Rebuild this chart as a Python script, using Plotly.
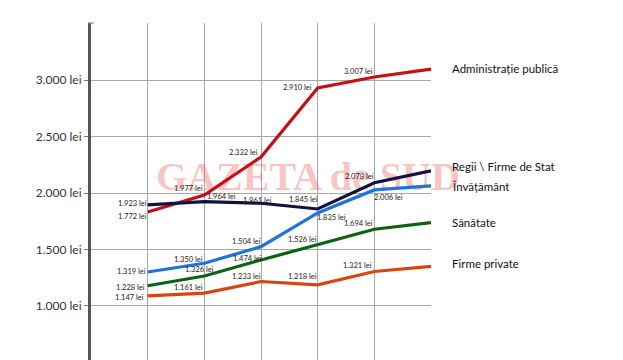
import plotly.graph_objects as go

# ---- data ----
points = [0, 1, 2, 3, 4, 5]

series_names = ["Administrație publică", "Regii \\ Firme de Stat", "Învățământ", "Sănătate", "Firme private"]
admin_vals = [1833, 1983, 2320, 2932, 3029, 3100]
regii_vals = [1895, 1924, 1910, 1859, 2092, 2198]
invat_vals = [1300, 1378, 1525, 1824, 2028, 2063]
sanat_vals = [1178, 1265, 1407, 1540, 1679, 1738]
privat_vals = [1089, 1113, 1216, 1187, 1305, 1350]

admin_labels = ["1.772 lei", "1.977 lei", "2.332 lei", "2.910 lei", "3.007 lei"]
regii_labels = ["1.923 lei", "1.964 lei", "1.961 lei", "1.845 lei", "2.078 lei"]
invat_labels = ["1.319 lei", "1.350 lei", "1.504 lei", "1.835 lei", "2.006 lei"]
sanat_labels = ["1.228 lei", "1.326 lei", "1.474 lei", "1.526 lei", "1.694 lei"]
privat_labels = ["1.147 lei", "1.161 lei", "1.233 lei", "1.218 lei", "1.321 lei"]

y_tickvals = [1000, 1500, 2000, 2500, 3000]
y_ticktext = ["1.000 lei", "1.500 lei", "2.000 lei", "2.500 lei", "3.000 lei"]

# ---- styles ----
colors = ["#c90d14", "#12123e", "#1e74dc", "#0b6114", "#d8450f"]
label_offsets = [
    [(-15, -5), (-16, 7), (-18, 4), (-20, 0), (-16, 6)],
    [(-15, 1), (17, 5), (-4, 3), (-14, 9), (-15, 6)],
    [(-16, 1), (-16, 4), (-15, 5), (14, -5), (14, -8)],
    [(-17, -2), (-5, 6), (-14, 1), (-15, 5), (-16, 6)],
    [(-18, -2), (-16, 6), (-15, 5), (-15, 8), (-17, 6)],
]
side_yshift = [1, 4, -1, 0, 3]

all_vals = [admin_vals, regii_vals, invat_vals, sanat_vals, privat_vals]
all_labels = [admin_labels, regii_labels, invat_labels, sanat_labels, privat_labels]

x_range = [-1, 5]
y_range = [520, 3508]

fig = go.Figure()

# watermark (drawn first, below lines)
fig.add_trace(go.Scatter(
    x=[x_range[0] + 0.638 * (x_range[1] - x_range[0])],
    y=[y_range[0] + 0.535 * (y_range[1] - y_range[0])],
    mode="text", text=["GAZETA de SUD"], cliponaxis=False,
    textfont=dict(family="Liberation Serif", size=40, weight=700, color="rgba(235,70,70,0.33)"),
    hoverinfo="skip", showlegend=False,
))

for name, vals, col in zip(series_names, all_vals, colors):
    fig.add_trace(go.Scatter(
        x=points, y=vals, mode="lines", name=name,
        line=dict(color=col, width=3.2), showlegend=False,
    ))

annotations = []
for vals, labs, offs in zip(all_vals, all_labels, label_offsets):
    for i, (lab, (dx, dy)) in enumerate(zip(labs, offs)):
        annotations.append(dict(
            x=points[i], y=vals[i], text=lab, showarrow=False,
            xshift=dx, yshift=dy, xanchor="center", yanchor="middle",
            font=dict(family="Lato", size=7.5, color="#222222"),
        ))

for name, vals, ys in zip(series_names, all_vals, side_yshift):
    annotations.append(dict(
        x=points[-1], y=vals[-1], text=name, showarrow=False,
        xanchor="left", yanchor="middle", xshift=19, yshift=ys,
        font=dict(family="Lato", size=11.5, color="#111111"),
    ))

fig.update_layout(
    width=623, height=360,
    margin=dict(l=91, r=192, t=23, b=0),
    paper_bgcolor="white", plot_bgcolor="white",
    annotations=annotations,
    shapes=[dict(type="line", xref="paper", yref="paper", x0=-0.009, x1=0.009, y0=1, y1=1,
                 line=dict(color="#777777", width=1))],
    xaxis=dict(range=x_range, tickvals=[0, 1, 2, 3, 4], showticklabels=False,
               showgrid=True, gridcolor="#a8a8a8", gridwidth=1, zeroline=False,
               showline=False, ticks=""),
    yaxis=dict(range=y_range, tickvals=y_tickvals, ticktext=y_ticktext,
               showgrid=True, gridcolor="#a8a8a8", gridwidth=1, zeroline=False,
               showline=True, linecolor="#555555", linewidth=3,
               ticks="outside", ticklen=4, tickcolor="#777777", tickwidth=1,
               tickfont=dict(family="Lato", size=12, color="#333333")),
)

fig.write_html("out.html")
